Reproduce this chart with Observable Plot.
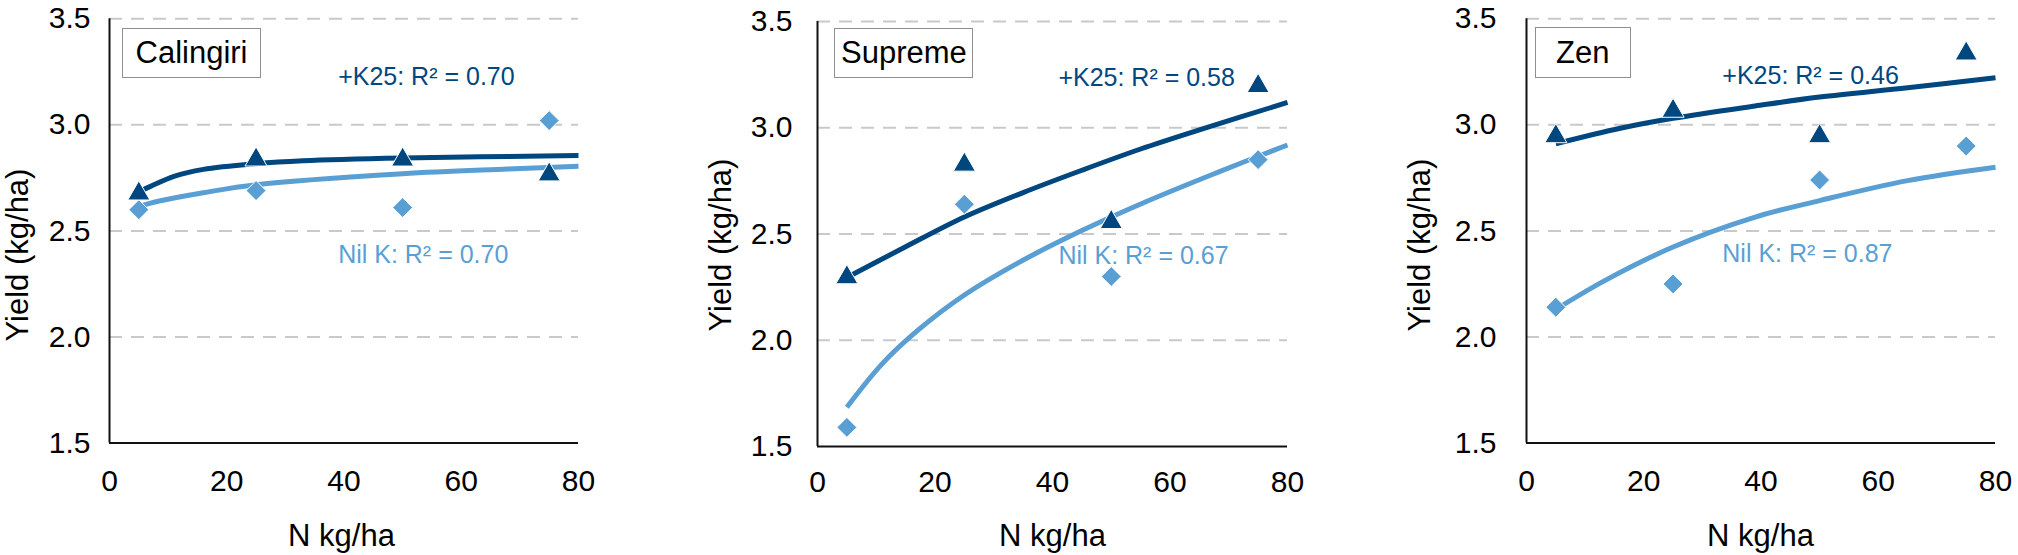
<!DOCTYPE html>
<html>
<head>
<meta charset="utf-8">
<script src="https://cdn.jsdelivr.net/npm/d3@7"></script>
<script src="https://cdn.jsdelivr.net/npm/@observablehq/plot@0.6"></script>
<style>
  body { margin: 0; background: #fff; }
  #wrap { position: relative; width: 2018px; height: 555px; font-family: "Liberation Sans", Arial, Helvetica, sans-serif; color: #000; overflow: hidden; }
  .panel { position: absolute; top: 0; }
  .name { position: absolute; box-sizing: border-box; border: 1.5px solid #8f8f8f; background: #fff; font-size: 31px; display: flex; align-items: center; justify-content: center; white-space: nowrap; }
  .xt { position: absolute; font-size: 31px; white-space: nowrap; transform: translate(-50%, -50%); }
  .yt { position: absolute; font-size: 31px; line-height: 31px; white-space: nowrap; transform: translate(-50%, -50%) rotate(-90deg); }
</style>
</head>
<body>
<div id="wrap"></div>
<script>
// ---------- data ----------
const nRates = [5, 25, 50, 75];
const xTicks = [0, 20, 40, 60, 80];
const yTicks = [1.5, 2.0, 2.5, 3.0, 3.5];
const gridLines = [2.0, 2.5, 3.0, 3.5];
const cultivars = ["Calingiri", "Supreme", "Zen"];

const calingiriK25 = [2.69, 2.85, 2.85, 2.78];
const calingiriNilK = [2.60, 2.69, 2.61, 3.02];
const supremeK25 = [2.31, 2.84, 2.57, 3.21];
const supremeNilK = [1.59, 2.64, 2.30, 2.85];
const zenK25 = [2.96, 3.08, 2.96, 3.35];
const zenNilK = [2.14, 2.25, 2.74, 2.90];

const r2K25 = ["0.70", "0.58", "0.46"];
const r2NilK = ["0.70", "0.67", "0.87"];

// fitted trend lines
const calingiriK25TrendN = [5, 7, 11, 16, 25, 33, 50, 80];
const calingiriK25TrendY = [2.685, 2.71, 2.757, 2.79, 2.817, 2.831, 2.844, 2.855];
const calingiriNilTrendN = [5, 7, 11, 16, 25, 50, 68, 80];
const calingiriNilTrendY = [2.615, 2.631, 2.655, 2.68, 2.718, 2.77, 2.792, 2.805];
const supremeK25TrendN = [5, 15, 25, 35, 45, 55, 65, 80];
const supremeK25TrendY = [2.295, 2.44, 2.58, 2.695, 2.80, 2.90, 2.99, 3.119];
const supremeNilTrendN = [5, 11, 17, 25, 34, 45, 56, 68, 80];
const supremeNilTrendY = [1.685, 1.889, 2.045, 2.213, 2.362, 2.516, 2.653, 2.789, 2.919];
const zenK25TrendN = [5, 16, 25, 39, 50, 65, 80];
const zenK25TrendY = [2.911, 2.984, 3.031, 3.089, 3.131, 3.175, 3.222];
const zenNilTrendN = [5, 13.5, 25, 39, 50, 65, 80];
const zenNilTrendY = [2.13, 2.268, 2.424, 2.565, 2.643, 2.737, 2.80];

// ---------- styling / layout ----------
const DARK = "#00467F";
const LIGHT = "#5A9FD4";
const FONT = '"Liberation Sans", Arial, Helvetica, sans-serif';

const panels = [
  { name: cultivars[0], k25: calingiriK25, nil: calingiriNilK,
    tK25: [calingiriK25TrendN, calingiriK25TrendY], tNil: [calingiriNilTrendN, calingiriNilTrendY],
    r2: [r2K25[0], r2NilK[0]],
    left: 0, width: 600, ml: 109, mr: 22, mt: 18.3, mb: 57.5, xpad: 27, ypad: 19,
    labK25: [39.0, 3.225], labNil: [39.0, 2.386],
    box: [122, 27.7, 139, 50.6], ytitle: [17, 255], xtitle: [341.5, 536] },
  { name: cultivars[1], k25: supremeK25, nil: supremeNilK,
    tK25: [supremeK25TrendN, supremeK25TrendY], tNil: [supremeNilTrendN, supremeNilTrendY],
    r2: [r2K25[1], r2NilK[1]],
    left: 700, width: 610, ml: 117, mr: 23, mt: 21, mb: 54, xpad: 24, ypad: 25,
    labK25: [41.0, 3.236], labNil: [41.0, 2.397],
    box: [834.4, 28, 139, 50.3], ytitle: [720.3, 245], xtitle: [1052.5, 536] },
  { name: cultivars[2], k25: zenK25, nil: zenNilK,
    tK25: [zenK25TrendN, zenK25TrendY], tNil: [zenNilTrendN, zenNilTrendY],
    r2: [r2K25[2], r2NilK[2]],
    left: 1400, width: 618, ml: 126, mr: 23, mt: 18.3, mb: 57.5, xpad: 27, ypad: 30,
    labK25: [33.4, 3.229], labNil: [33.4, 2.39],
    box: [1534.7, 27.3, 96, 51], ytitle: [1419.3, 245], xtitle: [1760.5, 536] }
];

const wrap = document.getElementById("wrap");

for (const p of panels) {
  const k25Pts = nRates.map((n, i) => ({ n, y: p.k25[i] }));
  const nilPts = nRates.map((n, i) => ({ n, y: p.nil[i] }));
  const k25Line = p.tK25[0].map((n, i) => ({ n, y: p.tK25[1][i] }));
  const nilLine = p.tNil[0].map((n, i) => ({ n, y: p.tNil[1][i] }));
  const labels = [
    { n: p.labK25[0], y: p.labK25[1], t: `+K25: R² = ${p.r2[0]}`, c: DARK },
    { n: p.labNil[0], y: p.labNil[1], t: `Nil K: R² = ${p.r2[1]}`, c: LIGHT }
  ];

  const chart = Plot.plot({
    width: p.width,
    height: 500,
    marginLeft: p.ml, marginRight: p.mr, marginTop: p.mt, marginBottom: p.mb,
    style: { fontFamily: FONT, fontSize: "30px", color: "#000", background: "transparent", overflow: "visible" },
    x: { domain: [0, 80], ticks: xTicks, tickSize: 0, tickPadding: p.xpad, label: null },
    y: { domain: [1.5, 3.5], ticks: yTicks, tickSize: 0, tickPadding: p.ypad, tickFormat: d3.format(".1f"), label: null },
    marks: [
      Plot.ruleY(gridLines, { stroke: "#c9c9c9", strokeWidth: 2, strokeDasharray: "13,9" }),
      Plot.ruleX([0], { stroke: "#111", strokeWidth: 2 }),
      Plot.ruleY([1.5], { stroke: "#111", strokeWidth: 2 }),
      Plot.line(k25Line, { x: "n", y: "y", stroke: DARK, strokeWidth: 5, curve: "catmull-rom", strokeLinecap: "butt" }),
      Plot.line(nilLine, { x: "n", y: "y", stroke: LIGHT, strokeWidth: 5, curve: "catmull-rom", strokeLinecap: "butt" }),
      Plot.dot(nilPts, { x: "n", y: "y", symbol: d3.symbolDiamond2, r: 9, fill: LIGHT, stroke: "white", strokeWidth: 1 }),
      Plot.dot(k25Pts, { x: "n", y: "y", symbol: "triangle", r: 8.2, dy: 3, fill: DARK, stroke: "white", strokeWidth: 1 }),
      Plot.text(labels, { x: "n", y: "y", text: "t", fill: "c", textAnchor: "start", fontSize: 25 })
    ]
  });
  const holder = document.createElement("div");
  holder.className = "panel";
  holder.style.left = p.left + "px";
  holder.appendChild(chart);
  wrap.appendChild(holder);

  const box = document.createElement("div");
  box.className = "name";
  box.textContent = p.name;
  box.style.left = p.box[0] + "px";
  box.style.top = p.box[1] + "px";
  box.style.width = p.box[2] + "px";
  box.style.height = p.box[3] + "px";
  wrap.appendChild(box);

  const yt = document.createElement("div");
  yt.className = "yt";
  yt.textContent = "Yield (kg/ha)";
  yt.style.left = p.ytitle[0] + "px";
  yt.style.top = p.ytitle[1] + "px";
  wrap.appendChild(yt);

  const xt = document.createElement("div");
  xt.className = "xt";
  xt.textContent = "N kg/ha";
  xt.style.left = p.xtitle[0] + "px";
  xt.style.top = p.xtitle[1] + "px";
  wrap.appendChild(xt);
}
</script>
</body>
</html>
